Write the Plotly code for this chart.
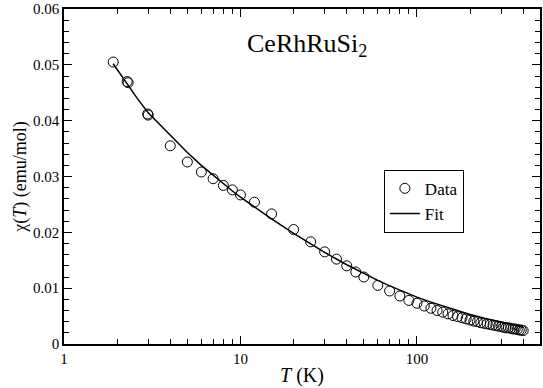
import plotly.graph_objects as go
import numpy as np

# Data points (T in K, chi in emu/mol)
T_data = [1.9, 2.28, 2.31, 2.98, 3.0, 4, 5, 6, 7, 8, 9, 10, 12, 15, 20, 25, 30, 35, 40, 45, 50,
          60, 70, 80, 90, 100, 110, 120, 130, 140, 150, 160, 170, 180, 190, 200,
          210, 220, 230, 240, 250, 260, 270, 280, 290, 300,
          310, 320, 330, 340, 350, 360, 370, 380, 390, 400]
chi_data = [0.0505, 0.0470, 0.0468, 0.0412, 0.0410, 0.0355, 0.0326, 0.0308, 0.0296, 0.0284, 0.0276,
            0.0267, 0.0254, 0.0233, 0.0205, 0.0183, 0.0165, 0.0152, 0.0140, 0.0129, 0.0120,
            0.0105, 0.0095, 0.0086, 0.0078, 0.0073, 0.0068, 0.0064, 0.0060, 0.0057, 0.0054,
            0.0051, 0.0049, 0.0047, 0.0045, 0.0043, 0.0041, 0.0040, 0.0038, 0.0037, 0.0036,
            0.0035, 0.0034, 0.0033, 0.0032, 0.0031, 0.0030, 0.0029, 0.0029, 0.0028, 0.0027,
            0.0027, 0.0026, 0.0025, 0.0025, 0.0024]

# Fit curve
T_fit = [1.9, 2.3, 2.6, 3, 4, 5, 6, 7, 8, 9, 10, 12, 15, 20, 25, 30, 40, 50, 60, 70, 80,
         100, 120, 150, 200, 250, 300, 350, 400]
chi_fit = [0.0502, 0.0463, 0.0440, 0.0414, 0.0373, 0.0343, 0.0320, 0.0302, 0.0287, 0.0274,
           0.0263, 0.0245, 0.0224, 0.0198, 0.0179, 0.0164, 0.0142, 0.0126, 0.0114, 0.0104,
           0.0096, 0.0084, 0.0075, 0.0065, 0.0053, 0.0045, 0.0039, 0.0034, 0.0030]

x_tickvals = [1, 10, 100]
x_ticktext = ["1", "10", "100"]
y_tickvals = [0, 0.01, 0.02, 0.03, 0.04, 0.05, 0.06]
y_ticktext = ["0", "0.01", "0.02", "0.03", "0.04", "0.05", "0.06"]

font = "Liberation Serif"

fig = go.Figure()
fig.add_trace(go.Scatter(x=T_data, y=chi_data, mode="markers", name="Data",
                         marker=dict(symbol="circle-open", size=10, color="black",
                                     line=dict(width=1, color="black"))))
fig.add_trace(go.Scatter(x=T_fit, y=chi_fit, mode="lines", name="Fit",
                         line=dict(color="black", width=1.5)))

fig.update_layout(
    width=543, height=388,
    margin=dict(l=64, r=1, t=8, b=44),
    paper_bgcolor="white", plot_bgcolor="white",
    font=dict(family=font, size=15, color="black"),
    showlegend=True,
    legend=dict(x=0.672, y=0.52, xanchor="left", yanchor="top",
                bordercolor="black", borderwidth=1, bgcolor="white",
                font=dict(family=font, size=17), tracegroupgap=0,
                itemwidth=30),
    annotations=[dict(text="CeRhRuSi<sub>2</sub>", x=0.51, y=0.945, xref="paper", yref="paper",
                      showarrow=False, font=dict(family=font, size=26, color="black"))],
)
fig.update_xaxes(type="log", range=[0, np.log10(498)],
                 tickvals=x_tickvals, ticktext=x_ticktext,
                 ticks="inside", ticklen=8, tickwidth=1, tickcolor="black",
                 minor=dict(ticks="inside", ticklen=5, tickwidth=1, tickcolor="black",
                            dtick="D1", showgrid=False),
                 showline=True, linecolor="black", linewidth=1.5, mirror="allticks",
                 showgrid=False, zeroline=False,
                 title=dict(text="<i>T</i> (K)", font=dict(family=font, size=20), standoff=2),
                 tickfont=dict(family=font, size=15))
fig.update_yaxes(range=[0, 0.06], tickvals=y_tickvals, ticktext=y_ticktext,
                 ticks="inside", ticklen=8, tickwidth=1, tickcolor="black",
                 minor=dict(ticks="inside", ticklen=5, tickwidth=1, tickcolor="black",
                            dtick=0.002, showgrid=False),
                 showline=True, linecolor="black", linewidth=1.5, mirror="allticks",
                 showgrid=False, zeroline=False,
                 title=dict(text="χ(<i>T</i>) (emu/mol)", font=dict(family=font, size=18), standoff=2),
                 tickfont=dict(family=font, size=15))

fig.write_html("out.html")
